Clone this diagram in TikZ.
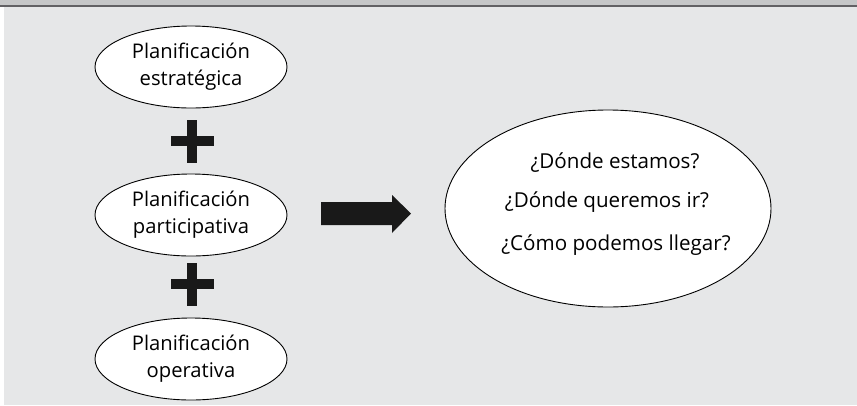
\documentclass[tikz,border=0pt]{standalone}
\usepackage{fontspec}
\setmainfont{Open Sans}
\usetikzlibrary{shapes.geometric}
\definecolor{bgpanel}{HTML}{E6E7E8}
\definecolor{bandlight}{HTML}{C6C7C8}
\definecolor{banddark}{HTML}{626164}
\begin{document}
\begin{tikzpicture}[x=1pt,y=-1pt,
  oval/.style={ellipse, draw=black, line width=0.9pt, fill=white, inner sep=0pt,
     minimum width=192pt, minimum height=82pt, align=center,
     font=\fontsize{20.2}{27}\selectfont},
  bigoval/.style={ellipse, draw=black, line width=0.9pt, fill=white, inner sep=0pt,
     minimum width=326pt, minimum height=197pt},
  qtext/.style={font=\fontsize{20.6}{24}\selectfont, anchor=base},
  plussign/.style={fill=black!90}
]
\useasboundingbox (0,0) rectangle (857,405);
% background
\fill[white] (0,0) rectangle (857,405);
\fill[bgpanel] (4,7) rectangle (857,405);
\fill[bandlight] (0,0) rectangle (857,4.5);
\fill[banddark] (0,4.5) rectangle (857,7);

% ovals
\node[oval] (e1) at (191,67) {Planificación\\estratégica};
\node[oval] (e2) at (191,215) {Planificación\\participativa};
\node[oval] (e3) at (191,359) {Planificación\\operativa};

% plus signs
\coordinate (p1) at (192,141);
\coordinate (p2) at (192,284);
\foreach \p in {p1,p2}{
  \fill[plussign] ([xshift=-21.5pt,yshift=-5pt]\p) rectangle ([xshift=21.5pt,yshift=5pt]\p);
  \fill[plussign] ([xshift=-5pt,yshift=-21.5pt]\p) rectangle ([xshift=5pt,yshift=21.5pt]\p);
}

% block arrow
\fill[black!90] (321,202) -- (392,202) -- (392,195) -- (411,213.5) -- (392,233) -- (392,225) -- (321,225) -- cycle;

% big oval
\node[bigoval] (big) at (608,208.5) {};
\node[qtext] (q1) at (615,168) {¿Dónde estamos?};
\node[qtext] (q2) at (607,207) {¿Dónde queremos ir?};
\node[qtext] (q3) at (616,250) {¿Cómo podemos llegar?};
\end{tikzpicture}
\end{document}
